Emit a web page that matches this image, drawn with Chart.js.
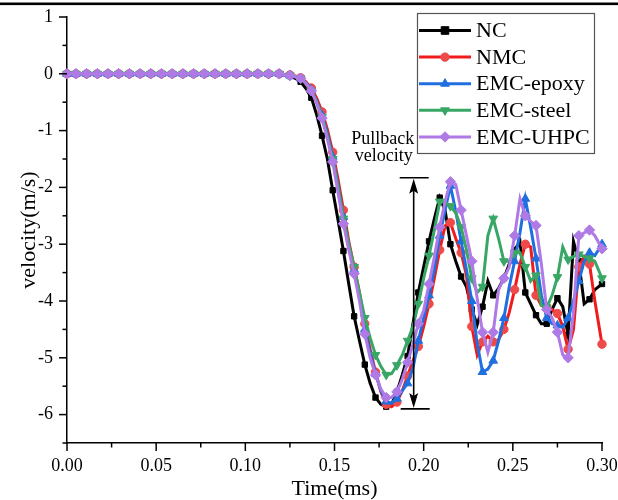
<!DOCTYPE html>
<html><head><meta charset="utf-8">
<script src="https://cdn.jsdelivr.net/npm/chart.js@4.4.0/dist/chart.umd.min.js"></script>
<style>html,body{margin:0;padding:0;background:#fff}#wrap{width:618px;height:500px}</style>
</head><body><div id="wrap"><canvas id="c" width="618" height="500"></canvas></div>
<script>
// ---- data (time in ms, velocity in m/s) ----
const flatTime = [0.000,0.002,0.005,0.008,0.011,0.014,0.017,0.020,0.023,0.026,0.029,0.032,0.035,0.038,0.041,0.044,0.047,0.050,0.053,0.056,0.059,0.062,0.065,0.068,0.071,0.074,0.077,0.080,0.083,0.086,0.089,0.092,0.095,0.098,0.101,0.104,0.107,0.110,0.113,0.116];
const waveTime = [0.119,0.122,0.125,0.128,0.131,0.134,0.137,0.140,0.143,0.146,0.149,0.152,0.155,0.158,0.161,0.164,0.167,0.170,0.173,0.176,0.179,0.182,0.185,0.188,0.191,0.194,0.197,0.200,0.203,0.206,0.209,0.212,0.215,0.218,0.221,0.224,0.227,0.230,0.233,0.236,0.239,0.242,0.245,0.248,0.251,0.254,0.257,0.260,0.263,0.266,0.269,0.272,0.275,0.278,0.281,0.284,0.287,0.290,0.293,0.296,0.300];
const flatVel = [0,0,0,0,0,0,0,0,0,0,0,0,0,0,0,0,0,0,0,0,0,0,0,0,0,0,0,0,0,0,0,0,0,0,0,0,0,0,0,0];

const NC = [0,-0.02,-0.04,-0.08,-0.14,-0.26,-0.42,-0.72,-1.09,-1.5,-2.05,-2.58,
  -3.12,-3.7,-4.27,-4.7,-5.12,-5.45,-5.7,-5.82,-5.86,-5.82,-5.6,-5.3,
  -4.97,-4.4,-3.85,-3.4,-2.95,-2.55,-2.18,-2.4,-3.0,-3.3,-3.57,-3.75,
  -4.15,-4.42,-4.1,-3.65,-3.9,-3.78,-3.6,-3.35,-3.1,-2.95,-3.85,-4.05,
  -4.25,-4.4,-4.4,-4.15,-3.95,-4.1,-4.6,-2.95,-3.3,-4.05,-3.97,-3.8,-3.7];
const NMC = [0,-0.01,-0.02,-0.04,-0.07,-0.14,-0.25,-0.43,-0.67,-0.98,-1.38,-1.86,
  -2.4,-2.95,-3.4,-3.85,-4.4,-4.85,-5.25,-5.6,-5.82,-5.86,-5.78,-5.58,
  -5.32,-5.05,-4.8,-4.45,-4.05,-3.6,-3.1,-2.68,-2.62,-2.9,-3.15,-3.55,
  -4.45,-4.95,-4.72,-4.62,-4.72,-4.68,-4.5,-4.2,-3.8,-3.35,-3.0,-3.05,
  -3.9,-4.08,-4.1,-4.15,-4.22,-4.45,-4.85,-4.5,-3.4,-3.22,-3.35,-4.0,-4.76];
const EMC_epoxy = [0,-0.01,-0.03,-0.05,-0.08,-0.16,-0.28,-0.48,-0.73,-1.05,-1.46,-1.96,
  -2.52,-3.02,-3.45,-3.92,-4.5,-4.92,-5.28,-5.58,-5.77,-5.8,-5.72,-5.58,
  -5.45,-5.18,-4.7,-4.3,-3.9,-3.45,-2.85,-2.4,-1.97,-2.42,-2.95,-3.45,
  -4.0,-4.75,-5.25,-5.2,-5.05,-4.7,-4.3,-3.75,-3.3,-2.8,-2.2,-2.7,
  -3.25,-3.9,-4.3,-4.4,-4.43,-4.46,-4.3,-4.0,-3.65,-3.3,-3.15,-3.2,-3.0];
const EMC_steel = [0,-0.02,-0.03,-0.05,-0.08,-0.17,-0.3,-0.5,-0.76,-1.1,-1.5,-2.0,
  -2.55,-3.0,-3.4,-3.85,-4.3,-4.65,-4.95,-5.15,-5.3,-5.28,-5.13,-4.95,
  -4.7,-4.45,-4.05,-3.6,-3.2,-2.75,-2.25,-2.26,-2.33,-2.45,-2.7,-3.1,
  -3.6,-3.85,-3.75,-2.85,-2.55,-2.9,-3.3,-3.3,-3.15,-3.15,-3.4,-3.65,
  -3.55,-4.08,-4.12,-3.9,-3.58,-3.05,-3.27,-3.22,-3.18,-3.22,-3.25,-3.3,-3.6];
const EMC_UHPC = [0,-0.02,-0.03,-0.05,-0.08,-0.17,-0.3,-0.52,-0.78,-1.15,-1.55,-2.1,
  -2.64,-3.1,-3.52,-4.0,-4.58,-5.0,-5.3,-5.55,-5.7,-5.7,-5.6,-5.38,
  -5.08,-4.76,-4.4,-4.17,-3.7,-3.22,-2.7,-2.25,-1.9,-1.95,-2.4,-2.85,
  -3.3,-3.95,-4.55,-4.9,-4.55,-3.8,-3.6,-3.4,-2.85,-2.2,-2.5,-2.6,
  -2.67,-3.35,-4.15,-4.3,-4.55,-4.95,-5.0,-4.2,-2.85,-2.8,-2.75,-2.85,-3.08];

const seriesNames = ['NC','NMC','EMC-epoxy','EMC-steel','EMC-UHPC'];
const seriesValues = [NC, NMC, EMC_epoxy, EMC_steel, EMC_UHPC];
const seriesColors = ['#000000','#f21b1b','#1f6fe0','#38a766','#b07ae6'];
const markerColors = ['#000000','#ef4a4a','#1f6fe0','#38a766','#b07ae6'];
const seriesMarkers = ['rect','circle','triangle','triangle','rectRot'];
const markerRotation = [0,0,0,180,0];
const markerRadius = [3.8,4.2,5,5,5.2];

const xMajorTicks = [0,0.05,0.10,0.15,0.20,0.25,0.30];
const xMinorTicks = [0.025,0.075,0.125,0.175,0.225,0.275];
const yMajorTicks = [-6,-5,-4,-3,-2,-1,0,1];
const yMinorTicks = [-6.5,-5.5,-4.5,-3.5,-2.5,-1.5,-0.5,0.5];

const pullbackTime = 0.1944, pullbackTop = -1.83, pullbackBottom = -5.9;
const pullbackText = ['Pullback','velocity'];

const time = flatTime.concat(waveTime);
const FONT = "'Liberation Serif','Times New Roman',serif";

const datasets = seriesNames.map((name, i) => ({
  label: name,
  data: time.map((t, j) => ({x: t, y: flatVel.concat(seriesValues[i])[j]})),
  borderColor: seriesColors[i],
  backgroundColor: markerColors[i],
  pointBorderColor: markerColors[i],
  pointBackgroundColor: markerColors[i],
  borderWidth: 3,
  pointStyle: seriesMarkers[i],
  rotation: markerRotation[i],
  pointRadius: ctx => (ctx.dataIndex % 2 === 0 ? markerRadius[i] : 0),
  pointBorderWidth: 1,
  tension: 0,
  clip: false,
  order: 5 - i
}));

function drawMarker(ctx, style, x, y, r, rot, color) {
  ctx.save();
  ctx.fillStyle = color; ctx.strokeStyle = color; ctx.lineWidth = 1;
  ctx.translate(x, y); ctx.rotate(rot * Math.PI / 180);
  ctx.beginPath();
  if (style === 'rect') { ctx.rect(-r, -r, 2 * r, 2 * r); }
  else if (style === 'circle') { ctx.arc(0, 0, r, 0, Math.PI * 2); }
  else if (style === 'triangle') { ctx.moveTo(0, -r); ctx.lineTo(r * 0.866, r * 0.5); ctx.lineTo(-r * 0.866, r * 0.5); ctx.closePath(); }
  else if (style === 'rectRot') { ctx.moveTo(0, -r); ctx.lineTo(r, 0); ctx.lineTo(0, r); ctx.lineTo(-r, 0); ctx.closePath(); }
  ctx.fill(); ctx.stroke();
  ctx.restore();
}

const decor = {
  id: 'decor',
  afterDraw(chart) {
    const ctx = chart.ctx, xs = chart.scales.x, ys = chart.scales.y;
    ctx.save();
    ctx.strokeStyle = '#000'; ctx.lineWidth = 1.5;
    const yb = ys.bottom;
    xMajorTicks.forEach(v => { const p = xs.getPixelForValue(v); ctx.beginPath(); ctx.moveTo(p, yb); ctx.lineTo(p, yb + 8); ctx.stroke(); });
    xMinorTicks.forEach(v => { const p = xs.getPixelForValue(v); ctx.beginPath(); ctx.moveTo(p, yb); ctx.lineTo(p, yb + 4.5); ctx.stroke(); });
    const xl = xs.left;
    yMajorTicks.forEach(v => { const p = ys.getPixelForValue(v); ctx.beginPath(); ctx.moveTo(xl, p); ctx.lineTo(xl - 8, p); ctx.stroke(); });
    yMinorTicks.forEach(v => { const p = ys.getPixelForValue(v); ctx.beginPath(); ctx.moveTo(xl, p); ctx.lineTo(xl - 4.5, p); ctx.stroke(); });
    ctx.fillStyle = '#000';
    ctx.fillRect(0, 2.5, chart.width, 2.6);
    const ax = xs.getPixelForValue(pullbackTime);
    const at = ys.getPixelForValue(pullbackTop);
    const ab = ys.getPixelForValue(pullbackBottom);
    ctx.lineWidth = 1.6;
    ctx.beginPath();
    ctx.moveTo(ax - 14, at); ctx.lineTo(ax + 15, at);
    ctx.moveTo(ax - 13, ab); ctx.lineTo(ax + 16, ab);
    ctx.moveTo(ax, at + 6); ctx.lineTo(ax, ab - 6);
    ctx.stroke();
    ctx.beginPath();
    ctx.moveTo(ax, at + 1); ctx.lineTo(ax + 4.5, at + 16); ctx.lineTo(ax, at + 13); ctx.lineTo(ax - 4.5, at + 16); ctx.closePath();
    ctx.moveTo(ax, ab - 1); ctx.lineTo(ax + 4.5, ab - 16); ctx.lineTo(ax, ab - 13); ctx.lineTo(ax - 4.5, ab - 16); ctx.closePath();
    ctx.fill();
    ctx.font = '18px ' + FONT;
    ctx.textAlign = 'center'; ctx.textBaseline = 'alphabetic';
    ctx.fillText(pullbackText[0], ax - 31, at - 34);
    ctx.fillText(pullbackText[1], ax - 30, at - 17);
    const lx = 417.5, ly = 13.5, lw = 177, lh = 140;
    ctx.fillStyle = '#fff'; ctx.fillRect(lx, ly, lw, lh);
    ctx.strokeStyle = '#555'; ctx.lineWidth = 1.2; ctx.strokeRect(lx, ly, lw, lh);
    ctx.font = '22px ' + FONT; ctx.textAlign = 'left'; ctx.textBaseline = 'middle';
    seriesNames.forEach((name, i) => {
      const y = 30.5 + i * 26.6;
      ctx.strokeStyle = seriesColors[i]; ctx.lineWidth = 3;
      ctx.beginPath(); ctx.moveTo(419, y); ctx.lineTo(471, y); ctx.stroke();
      drawMarker(ctx, seriesMarkers[i], 445, y, markerRadius[i], markerRotation[i], markerColors[i]);
      ctx.fillStyle = '#000';
      ctx.fillText(name, 476, y + 1);
    });
    ctx.restore();
  }
};

new Chart(document.getElementById('c'), {
  type: 'line',
  data: { datasets },
  options: {
    responsive: false,
    animation: false,
    devicePixelRatio: 1,
    layout: { padding: { top: 17, right: 16, left: 0, bottom: 0 } },
    plugins: { legend: { display: false }, tooltip: { enabled: false } },
    scales: {
      x: {
        type: 'linear', min: 0, max: 0.3,
        afterFit: s => { s.height = 57; s.paddingLeft = 0; s.paddingRight = 0; },
        afterBuildTicks: s => { s.ticks = xMajorTicks.map(v => ({ value: v })); },
        ticks: { callback: v => v.toFixed(2), color: '#000', font: { family: FONT, size: 18 }, padding: 12, maxRotation: 0, autoSkip: false },
        grid: { display: false, drawTicks: false },
        border: { display: true, color: '#000', width: 1.5 },
        title: { display: true, text: 'Time(ms)', color: '#000', font: { family: FONT, size: 22, lineHeight: 1 }, padding: { top: 0, bottom: 0 } }
      },
      y: {
        type: 'linear', min: -6.5, max: 1,
        afterFit: s => { s.width = 67; s.paddingTop = 0; s.paddingBottom = 0; },
        afterBuildTicks: s => { s.ticks = yMajorTicks.map(v => ({ value: v })); },
        ticks: { callback: v => String(v), color: '#000', font: { family: FONT, size: 18 }, padding: 14 },
        grid: { display: false, drawTicks: false },
        border: { display: true, color: '#000', width: 1.5 },
        title: { display: true, text: 'velocity(m/s)', color: '#000', font: { family: FONT, size: 22, lineHeight: 1.2 }, padding: { top: 16, bottom: 0 } }
      }
    }
  },
  plugins: [decor]
});
</script></body></html>
